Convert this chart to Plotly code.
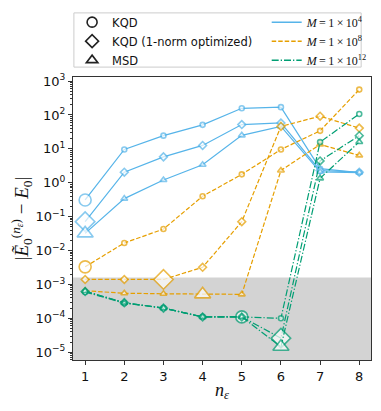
import plotly.graph_objects as go

# number of eigenvalues / Krylov dimension
n_eps = [1, 2, 3, 4, 5, 6, 7, 8]

# M = 1e4 (blue, solid)
kqd_m4 = [0.31, 9.6, 24.5, 51, 157, 170, 2.6, 2.0]
kqd1n_m4 = [0.071, 2.05, 5.8, 12.6, 52, 58, 2.3, 2.05]
msd_m4 = [0.032, 0.34, 1.2, 3.4, 25, 46, 2.1, 2.0]

# M = 1e8 (orange, dashed)
kqd_m8 = [3.3e-3, 0.0167, 0.043, 0.40, 1.77, 9.6, 34, 560]
kqd1n_m8 = [1.4e-3, 1.4e-3, 1.4e-3, 3.2e-3, 0.071, 46, 92, 41]
msd_m8 = [6.5e-4, 5.5e-4, 5.3e-4, 5.1e-4, 5.1e-4, 2.3, 13.5, 6.4]

# M = 1e12 (green, dash-dot)
kqd_m12 = [6.0e-4, 2.8e-4, 2.0e-4, 1.1e-4, 1.1e-4, 1.0e-4, 15.8, 107]
kqd1n_m12 = [6.2e-4, 2.9e-4, 2.0e-4, 1.1e-4, 1.1e-4, 2.6e-5, 4.4, 24.5]
msd_m12 = [6.4e-4, 2.9e-4, 2.0e-4, 1.1e-4, 1.1e-4, 1.45e-5, 1.35, 16]

# index of the optimal point for each series (drawn with a large marker)
best_idx = {
    "kqd_m4": 0, "kqd1n_m4": 0, "msd_m4": 0,
    "kqd_m8": 0, "kqd1n_m8": 2, "msd_m8": 3,
    "kqd_m12": 4, "kqd1n_m12": 5, "msd_m12": 5,
}

chem_acc = 1.6e-3

blue, orange, green = "#56B4E9", "#E69F00", "#009E73"
dash_m8 = "4.5px,2px"
dash_m12 = "7px,2px,1.3px,2px"

series = [
    ("kqd_m4", kqd_m4, blue, "solid", "circle"),
    ("kqd1n_m4", kqd1n_m4, blue, "solid", "diamond"),
    ("msd_m4", msd_m4, blue, "solid", "triangle-up"),
    ("kqd_m8", kqd_m8, orange, dash_m8, "circle"),
    ("kqd1n_m8", kqd1n_m8, orange, dash_m8, "diamond"),
    ("msd_m8", msd_m8, orange, dash_m8, "triangle-up"),
    ("kqd_m12", kqd_m12, green, dash_m12, "circle"),
    ("kqd1n_m12", kqd1n_m12, green, dash_m12, "diamond"),
    ("msd_m12", msd_m12, green, dash_m12, "triangle-up"),
]
small = {"circle": 5, "diamond": 6, "triangle-up": 6}
big = {"circle": 12, "diamond": 15, "triangle-up": 14}

fig = go.Figure()

for name, vals, col, dash, sym in series:
    sizes = [small[sym]] * len(vals)
    sizes[best_idx[name]] = big[sym]
    fig.add_trace(go.Scatter(
        x=n_eps, y=vals, mode="lines+markers", showlegend=False,
        line=dict(color=col, width=1.2, dash=dash),
        marker=dict(symbol=sym, size=sizes, color="white",
                    line=dict(color=col, width=1.6)),
    ))

# legend entries: marker shapes (left column)
for label, sym in [("KQD", "circle-open"), ("KQD (1-norm optimized)", "diamond-open"),
                   ("MSD", "triangle-up-open")]:
    fig.add_trace(go.Scatter(
        x=[None], y=[None], mode="markers", name=label, legend="legend",
        marker=dict(symbol=sym, size=10, color="#222", line=dict(width=1.6)),
    ))

# legend entries: line styles (right column)
for label, col, dash in [("<i>M</i>\u2009=\u20091\u2009×\u200910<sup>4</sup>", blue, "solid"),
                         ("<i>M</i>\u2009=\u20091\u2009×\u200910<sup>8</sup>", orange, dash_m8),
                         ("<i>M</i>\u2009=\u20091\u2009×\u200910<sup>12</sup>", green, dash_m12)]:
    fig.add_trace(go.Scatter(
        x=[None], y=[None], mode="lines", name=label, legend="legend2",
        line=dict(color=col, width=1.5, dash=dash),
    ))

# chemical accuracy band
fig.add_shape(type="rect", xref="paper", yref="y", x0=0, x1=1,
              y0=1e-6, y1=chem_acc, fillcolor="#d3d3d3", line_width=0,
              layer="below")
# legend frame
fig.add_shape(type="rect", xref="paper", yref="paper", x0=0.003, x1=0.967,
              y0=1.035, y1=1.2265, line=dict(color="#cccccc", width=1),
              fillcolor="white", layer="above")

exps = list(range(-5, 4))
tick_text = [("10<sup>−%d</sup>" % -e) if e < 0 else ("10<sup>%d</sup>" % e) for e in exps]

axis_common = dict(showline=True, linecolor="#333", linewidth=1, mirror=True,
                   ticks="outside", ticklen=4, tickcolor="#333", showgrid=False,
                   zeroline=False,
                   tickfont=dict(family="DejaVu Sans", size=13, color="#111"))

fig.update_layout(
    width=381, height=411,
    margin=dict(l=73, r=8, t=73, b=51),
    plot_bgcolor="white", paper_bgcolor="white",
    hovermode=False,
    xaxis=dict(range=[0.69, 8.3], tickvals=n_eps,
               title=dict(text="<i>n<sub>ε</sub></i>", standoff=0,
                          font=dict(family="Liberation Serif", size=18, color="#111")),
               **axis_common),
    yaxis=dict(type="log", range=[-5.23, 3.12],
               tickvals=[10.0 ** e for e in exps], ticktext=tick_text,
               minor=dict(ticks="outside", ticklen=2, tickcolor="#333", dtick="D1"),
               title=dict(text="|<i>Ẽ</i><sub>0</sub><sup>(<i>n<sub>ε</sub></i>)</sup> − <i>E</i><sub>0</sub>|",
                          standoff=1,
                          font=dict(family="Liberation Serif", size=19, color="#111")),
               **axis_common),
    legend=dict(x=-0.003, y=1.245, xanchor="left", yanchor="top",
                bgcolor="rgba(0,0,0,0)", tracegroupgap=0,
                font=dict(family="DejaVu Sans", size=11.5, color="#111")),
    legend2=dict(x=0.65, y=1.245, xanchor="left", yanchor="top",
                 bgcolor="rgba(0,0,0,0)",
                 font=dict(family="Liberation Serif", size=12, color="#111")),
)

# drop the default 8px page margin so the figure fills the window
fig.write_html("out.html", config={"displayModeBar": False},
               post_script="document.body.style.margin='0px';")
